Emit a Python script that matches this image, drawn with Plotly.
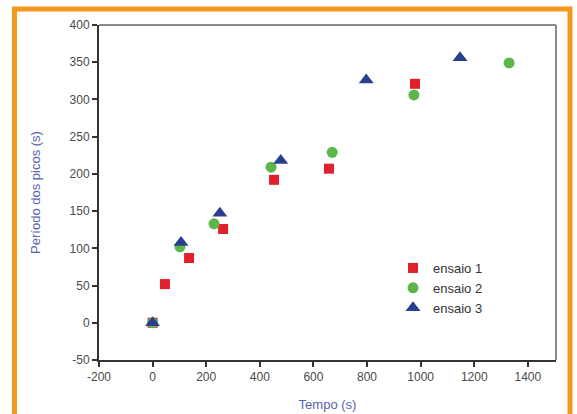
import plotly.graph_objects as go

# data
tempo_1 = [0, 46, 136, 263, 453, 658, 979]
periodo_1 = [0, 52, 87, 126, 192, 207, 321]
tempo_2 = [0, 102, 229, 442, 670, 975, 1330]
periodo_2 = [0, 102, 133, 209, 229, 306, 349]
tempo_3 = [0, 106, 251, 478, 797, 1147]
periodo_3 = [0, 108, 147, 218, 326, 356]
series_names = ["ensaio 1", "ensaio 2", "ensaio 3"]
x_ticks = [-200, 0, 200, 400, 600, 800, 1000, 1200, 1400]
x_ticklabels = ["-200", "0", "200", "400", "600", "800", "1000", "1200", "1400"]
y_ticks = [-50, 0, 50, 100, 150, 200, 250, 300, 350, 400]
y_ticklabels = ["-50", "0", "50", "100", "150", "200", "250", "300", "350", "400"]

W, H = 577, 414
L, R, T, B = 99, 556, 25, 360
def px(x): return (x - L) / (R - L)
def py(y): return (B - y) / (B - T)

fig = go.Figure()
fig.add_trace(go.Scatter(x=tempo_1, y=periodo_1, mode="markers", name=series_names[0],
                         marker=dict(symbol="square", size=10, color="#e1202b")))
fig.add_trace(go.Scatter(x=tempo_2, y=periodo_2, mode="markers", name=series_names[1],
                         marker=dict(symbol="circle", size=11, color="#5db64a")))
fig.add_trace(go.Scatter(x=tempo_3, y=periodo_3, mode="markers", name=series_names[2],
                         marker=dict(symbol="triangle-up", size=13, color="#2b3f91")))

axis_common = dict(showgrid=False, zeroline=False, showline=True, linecolor="#333333",
                   linewidth=2, ticks="outside", ticklen=5, tickwidth=1.5, tickcolor="#333333",
                   tickfont=dict(family="Liberation Sans, Arial", size=12, color="#4a4a4a"))

fig.update_layout(
    width=W, height=H,
    margin=dict(l=L, r=W - R, t=T, b=H - B, autoexpand=False),
    paper_bgcolor="white", plot_bgcolor="white",
    showlegend=True,
    legend=dict(x=px(393), y=py(253), xanchor="left", yanchor="top",
                bgcolor="rgba(0,0,0,0)", font=dict(family="Liberation Sans, Arial", size=13, color="#333333"),
                itemwidth=30, tracegroupgap=0),
    xaxis=dict(range=[-200, 1505], tickvals=x_ticks, ticktext=x_ticklabels,
               title=dict(text="Tempo (s)", font=dict(family="Liberation Sans, Arial", size=13, color="#5765ad"),
                          standoff=16),
               **axis_common),
    yaxis=dict(range=[-50, 400], tickvals=y_ticks, ticktext=y_ticklabels,
               title=dict(text="Período dos picos (s)", font=dict(family="Liberation Sans, Arial", size=13, color="#5765ad"),
                          standoff=26),
               **axis_common),
    shapes=[
        dict(type="line", xref="paper", yref="paper", x0=0, x1=1, y0=1, y1=1,
             line=dict(color="#8a8a8a", width=2)),
        dict(type="line", xref="paper", yref="paper", x0=1, x1=1, y0=0, y1=1,
             line=dict(color="#8a8a8a", width=2)),
        dict(type="rect", xref="paper", yref="paper", x0=px(14.5), x1=px(570), y0=py(9), y1=py(430),
             line=dict(color="#f39a1e", width=5), layer="above"),
    ],
)

fig.write_html("out.html")
